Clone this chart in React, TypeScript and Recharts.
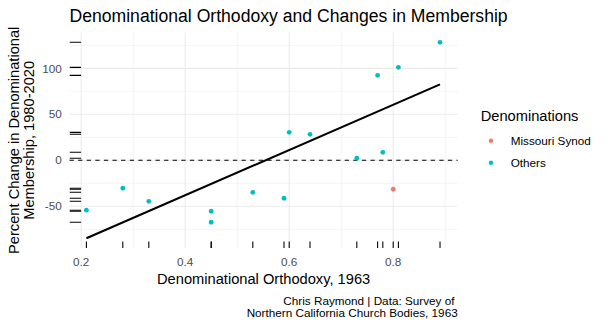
import React from 'react';
import { ComposedChart, Scatter, Line, XAxis, YAxis, CartesianGrid, ReferenceLine } from 'recharts';

// values
const orthodoxy = [0.21, 0.28, 0.33, 0.45, 0.45, 0.53, 0.59, 0.6, 0.64, 0.73, 0.77, 0.78, 0.8, 0.81, 0.89];
const memberChange = [-54.3, -30.4, -44.6, -55.4, -67.4, -34.8, -41.3, 30.4, 28.3, 2.2, 92.4, 8.7, -31.5, 101.1, 128.3];
const denomination = [
  'Others', 'Others', 'Others', 'Others', 'Others', 'Others', 'Others', 'Others',
  'Others', 'Others', 'Others', 'Others', 'Missouri Synod', 'Others', 'Others',
];
const groups = ['Missouri Synod', 'Others'];
const groupColors = ['#F8766D', '#00BFC4'];

// endpoints of the fitted line
const fitX = [0.21, 0.89];
const fitY = [-84.8, 82.6];

const xTicks = [0.2, 0.4, 0.6, 0.8];
const xMinor = [0.3, 0.5, 0.7, 0.9];
const yTicks = [-50, 0, 50, 100];
const yMinor = [-75, -25, 25, 75, 125];

const xDomain = [0.1775, 0.924];
const yDomain = [-95.5, 139];

const points = orthodoxy.map((x, i) => ({ x, y: memberChange[i], group: denomination[i] }));
const fitLine = fitX.map((x, i) => ({ x, y: fitY[i] }));
const rugBottom = orthodoxy.map((x) => ({ x, y: yDomain[0] }));
const rugLeft = memberChange.map((y) => ({ x: xDomain[0], y }));

const FONT = '"Liberation Sans", Arial, sans-serif';
const W = 609;
const H = 326;

const App: React.FC = () => {
  return (
    <div style={{ position: 'absolute', left: 0, top: 0, width: W, height: H, background: '#fff', fontFamily: FONT }}>
      <ComposedChart
        width={W}
        height={H}
        margin={{ top: 32.5, right: 151.3, bottom: 47.9, left: 0 }}
        style={{ fontFamily: FONT }}
      >
        <CartesianGrid horizontalValues={yMinor} verticalValues={xMinor} stroke="#EBEBEB" strokeWidth={0.55} />
        <CartesianGrid horizontalValues={yTicks} verticalValues={xTicks} stroke="#EBEBEB" strokeWidth={1.07} />
        <XAxis
          type="number"
          dataKey="x"
          domain={xDomain}
          allowDataOverflow
          ticks={xTicks}
          tickFormatter={(v: number) => v.toFixed(1)}
          axisLine={false}
          tickLine={false}
          tickSize={0}
          tickMargin={10}
          height={30}
          tick={{ fill: '#4D4D4D', fontSize: 11.73, fontFamily: FONT }}
        />
        <YAxis
          type="number"
          dataKey="y"
          domain={yDomain}
          allowDataOverflow
          ticks={yTicks}
          axisLine={false}
          tickLine={false}
          tickSize={0}
          tickMargin={7.8}
          width={69.5}
          tick={{ fill: '#4D4D4D', fontSize: 11.73, fontFamily: FONT }}
        />
        <ReferenceLine y={0} stroke="#000" strokeWidth={1.07} strokeDasharray="4.3 4.3" />
        <Line
          data={fitLine}
          dataKey="y"
          stroke="#000"
          strokeWidth={2.1}
          dot={false}
          isAnimationActive={false}
          legendType="none"
        />
        <Scatter
          data={rugBottom}
          isAnimationActive={false}
          legendType="none"
          shape={(p: any) => <line x1={p.cx} x2={p.cx} y1={p.cy} y2={p.cy - 6.5} stroke="#000" strokeWidth={1.07} />}
        />
        <Scatter
          data={rugLeft}
          isAnimationActive={false}
          legendType="none"
          shape={(p: any) => <line x1={p.cx} x2={p.cx + 11.6} y1={p.cy} y2={p.cy} stroke="#000" strokeWidth={1.07} />}
        />
        {groups.map((g, gi) => (
          <Scatter
            key={g}
            name={g}
            data={points.filter((d) => d.group === g)}
            fill={groupColors[gi]}
            isAnimationActive={false}
            shape={(p: any) => <circle cx={p.cx} cy={p.cy} r={2.4} fill={groupColors[gi]} />}
          />
        ))}
      </ComposedChart>
      <svg
        width={W}
        height={H}
        style={{ position: 'absolute', left: 0, top: 0, pointerEvents: 'none', fontFamily: FONT }}
      >
        <text x={69.5} y={21.5} fontSize={17.6} fill="#000">
          Denominational Orthodoxy and Changes in Membership
        </text>
        <text x={263.6} y={284} fontSize={14.67} fill="#000" textAnchor="middle">
          Denominational Orthodoxy, 1963
        </text>
        <g transform="translate(18.7,140.3) rotate(-90)">
          <text x={0} y={0} fontSize={14.67} fill="#000" textAnchor="middle">
            <tspan x={0} dy={0}>Percent Change in Denominational</tspan>
            <tspan x={0} dy={15.8}>Membership, 1980-2020</tspan>
          </text>
        </g>
        <text x={457.7} y={305.3} fontSize={11.73} fill="#000" textAnchor="end" style={{ whiteSpace: 'pre' }}>
          <tspan x={457.7} dy={0}>{'Chris Raymond | Data: Survey of '}</tspan>
          <tspan x={457.7} dy={11.4}>Northern California Church Bodies, 1963</tspan>
        </text>
        <text x={480.7} y={120.5} fontSize={14.67} fill="#000">
          Denominations
        </text>
        {groups.map((g, gi) => (
          <g key={g}>
            <circle cx={491} cy={140.7 + gi * 22} r={2.2} fill={groupColors[gi]} />
            <text x={510.7} y={145.1 + gi * 22.3} fontSize={11.73} fill="#000">
              {g}
            </text>
          </g>
        ))}
      </svg>
    </div>
  );
};

export default App;
